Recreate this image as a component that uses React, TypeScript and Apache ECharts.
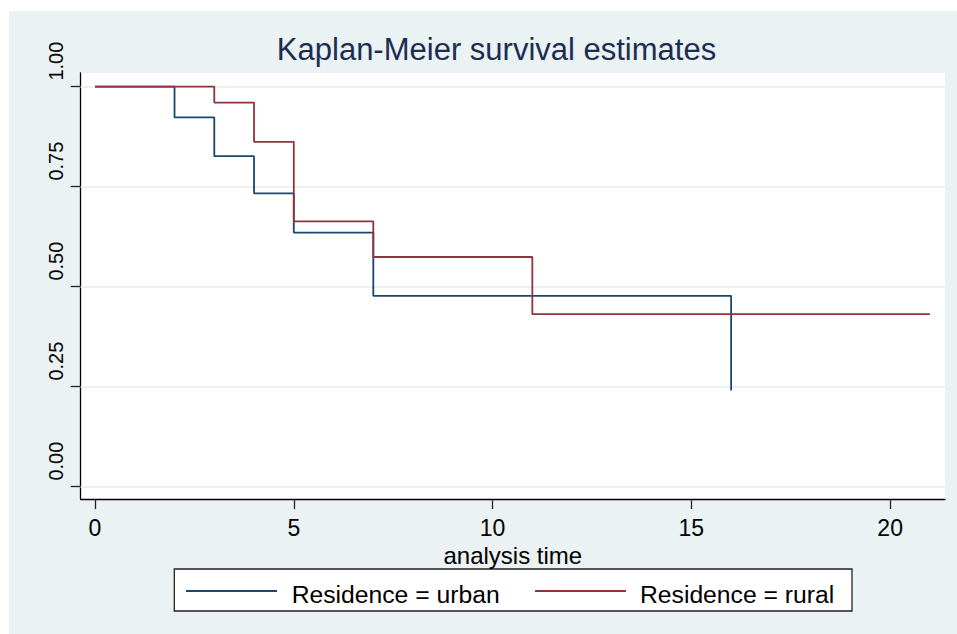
import React, { useEffect, useRef } from "react";
import * as echarts from "echarts";

// ---------- data ----------
const seriesNames = ["Residence = urban", "Residence = rural"];
const urbanTimes = [0, 2, 3, 4, 5, 7, 16];
const urbanSurv = [1, 0.923, 0.826, 0.733, 0.635, 0.477, 0.24];
const ruralTimes = [0, 3, 4, 5, 7, 11, 21];
const ruralSurv = [1, 0.96, 0.862, 0.663, 0.574, 0.431, 0.431];
const xTicks = [0, 5, 10, 15, 20];
const yTicks = [0, 0.25, 0.5, 0.75, 1];
const chartTitle = "Kaplan-Meier survival estimates";
const xTitle = "analysis time";

// ---------- styling ----------
const W = 957;
const H = 634;
const FONT = '"Liberation Sans", Arial, Helvetica, sans-serif';
const NARROW = '"Liberation Sans Narrow", "Arial Narrow", "Liberation Sans", Arial, sans-serif';
const BG = "#EAF2F3";
const URBAN = "#1a476f";
const RURAL = "#90353b";
const plotL = 80.7;
const plotR = 945;
const plotT = 73;
const plotB = 499;

export default function App() {
  const ref = useRef<HTMLDivElement>(null);

  useEffect(() => {
    document.body.style.margin = "0";
    if (!ref.current) return;
    const chart = echarts.init(ref.current, null, { renderer: "svg" });

    const legendY = 591;
    const legendTextY = 594.6;

    const option: any = {
      animation: false,
      backgroundColor: "#ffffff",
      grid: {
        left: plotL,
        right: W - plotR,
        top: plotT,
        bottom: H - plotB,
        show: true,
        backgroundColor: "#ffffff",
        borderWidth: 0,
        containLabel: false,
      },
      xAxis: {
        type: "value",
        min: -0.36,
        max: 21.38,
        axisLine: { show: true, onZero: false, lineStyle: { color: "#000", width: 1.3 } },
        axisTick: { show: true, length: 10, customValues: xTicks, lineStyle: { color: "#222", width: 1.3 } },
        axisLabel: {
          customValues: xTicks,
          fontSize: 23,
          color: "#000",
          margin: 17,
          fontFamily: FONT,
        },
        splitLine: { show: false },
        name: xTitle,
        nameLocation: "middle",
        nameGap: 40,
        nameTextStyle: { fontSize: 24, color: "#000", fontFamily: FONT },
      },
      yAxis: {
        type: "value",
        min: -0.031,
        max: 1.034,
        axisLine: { show: true, onZero: false, lineStyle: { color: "#000", width: 1.3 } },
        axisTick: { show: true, length: 10, customValues: yTicks, lineStyle: { color: "#222", width: 1.3 } },
        axisLabel: {
          customValues: yTicks,
          rotate: 90,
          align: "left",
          verticalAlign: "middle",
          padding: [0, 0, 0, 6],
          margin: 25,
          fontSize: 20,
          color: "#000",
          fontFamily: NARROW,
          formatter: (v: number) => v.toFixed(2),
        },
        splitLine: { show: false },
      },
      series: [
        {
          type: "line",
          name: "grid",
          data: [],
          z: 1,
          silent: true,
          markLine: {
            z: 1,
            silent: true,
            symbol: "none",
            label: { show: false },
            lineStyle: { color: BG, width: 2, type: "solid" },
            data: yTicks.map((v) => ({ yAxis: v })),
          },
        },
        {
          type: "line",
          name: seriesNames[0],
          step: "end",
          symbol: "none",
          z: 10,
          lineStyle: { color: URBAN, width: 1.8 },
          itemStyle: { color: URBAN },
          data: urbanTimes.map((t, i) => [t, urbanSurv[i]]),
        },
        {
          type: "line",
          name: seriesNames[1],
          step: "end",
          symbol: "none",
          z: 11,
          lineStyle: { color: RURAL, width: 1.8 },
          itemStyle: { color: RURAL },
          data: ruralTimes.map((t, i) => [t, ruralSurv[i]]),
        },
      ],
      graphic: [
        {
          type: "rect",
          z: -100,
          silent: true,
          shape: { x: 9, y: 11, width: W - 9, height: H - 11 },
          style: { fill: BG },
        },
        {
          type: "text",
          x: 496.5,
          y: 49.2,
          silent: true,
          style: {
            text: chartTitle,
            align: "center",
            verticalAlign: "middle",
            fontSize: 31,
            fontFamily: FONT,
            fill: "#1c2d52",
          },
        },
        {
          type: "rect",
          silent: true,
          shape: { x: 174.3, y: 569, width: 677.7, height: 42 },
          style: { fill: "#ffffff", stroke: "#222", lineWidth: 1.3 },
        },
        {
          type: "line",
          silent: true,
          shape: { x1: 186, y1: legendY, x2: 277, y2: legendY },
          style: { stroke: URBAN, lineWidth: 1.8 },
        },
        {
          type: "text",
          x: 291.7,
          y: legendTextY,
          silent: true,
          style: {
            text: seriesNames[0],
            align: "left",
            verticalAlign: "middle",
            fontSize: 24.7,
            fontFamily: FONT,
            fill: "#000",
          },
        },
        {
          type: "line",
          silent: true,
          shape: { x1: 535, y1: legendY, x2: 626, y2: legendY },
          style: { stroke: RURAL, lineWidth: 1.8 },
        },
        {
          type: "text",
          x: 640,
          y: legendTextY,
          silent: true,
          style: {
            text: seriesNames[1],
            align: "left",
            verticalAlign: "middle",
            fontSize: 24.7,
            fontFamily: FONT,
            fill: "#000",
          },
        },
      ],
    };

    chart.setOption(option);
    return () => {
      chart.dispose();
    };
  }, []);

  return <div ref={ref} style={{ width: W, height: H }} />;
}
